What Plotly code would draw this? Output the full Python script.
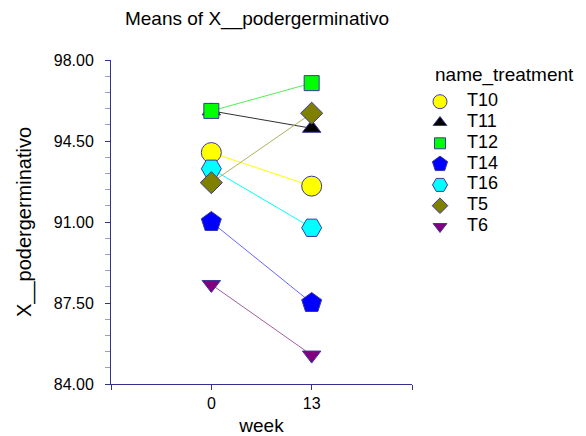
import plotly.graph_objects as go

# ---- data ----
weeks = [0, 13]
treatments = ["T10", "T11", "T12", "T14", "T16", "T5", "T6"]
t10 = [94.0, 92.55]
t11 = [95.8, 95.05]
t12 = [95.8, 97.0]
t14 = [91.0, 87.5]
t16 = [93.3, 90.75]
t5 = [92.7, 95.7]
t6 = [88.3, 85.25]
series = [t10, t11, t12, t14, t16, t5, t6]

y_tickvals = [84.0, 87.5, 91.0, 94.5, 98.0]
x_tickvals = [-13, 0, 13, 26]
x_ticktext = ["", "0", "13", ""]

# ---- styles ----
styles = {
    "T10": dict(symbol="circle", fill="#FFFF00", line="#FFFF00", size=20, lsize=14),
    "T11": dict(symbol="triangle-up", fill="#000000", line="#303030", size=16, lsize=12),
    "T12": dict(symbol="square", fill="#00FF00", line="#55EE55", size=15, lsize=11),
    "T14": dict(symbol="pentagon", fill="#0000FF", line="#6666FF", size=21, lsize=16),
    "T16": dict(symbol="hexagon2", fill="#00FFFF", line="#00FFFF", size=20, lsize=15),
    "T5": dict(symbol="diamond", fill="#808000", line="#B0B060", size=17, lsize=12),
    "T6": dict(symbol="triangle-down", fill="#800080", line="#A060A0", size=16, lsize=12),
}
outline = "#3A3A9A"
axis_col = "#33338F"
minor_col = "#9A9ACC"
FONT = "Liberation Sans, Arial, sans-serif"

# page body has an 8px margin: size the figure to fit the 586x436 window
OFF = 8
W, H = 586 - OFF, 436 - OFF
ML, MR, MT, MB = 111 - OFF, 0, 60 - OFF, 52
PW = W - ML - MR
PH = H - MT - MB
plot_right = 412 - OFF
leg_left = 430 - OFF

fig = go.Figure()

for name, vals in zip(treatments, series):
    s = styles[name]
    fig.add_trace(go.Scatter(
        x=weeks, y=vals, mode="lines+markers", name=name, showlegend=False,
        line=dict(color=s["line"], width=1),
        marker=dict(symbol=s["symbol"], size=s["size"], color=s["fill"],
                    line=dict(color=outline, width=1)),
        xaxis="x", yaxis="y",
    ))

# ---- custom legend (pixel-like coordinates on hidden axes) ----
row0, rowgap = 41.7, 20.8
leg_y = [row0 + i * rowgap for i in range(len(treatments))]
for i, name in enumerate(treatments):
    s = styles[name]
    fig.add_trace(go.Scatter(
        x=[10], y=[leg_y[i]], mode="markers", showlegend=False, hoverinfo="skip",
        marker=dict(symbol=s["symbol"], size=s["lsize"], color=s["fill"],
                    line=dict(color=outline, width=1)),
        xaxis="x2", yaxis="y2",
    ))
fig.add_trace(go.Scatter(
    x=[37] * len(treatments), y=leg_y, mode="text", text=treatments,
    textposition="middle right", showlegend=False, hoverinfo="skip",
    textfont=dict(family=FONT, size=18, color="#000000"),
    xaxis="x2", yaxis="y2",
))

fig.update_layout(
    width=W, height=H,
    margin=dict(l=ML, r=MR, t=MT, b=MB),
    paper_bgcolor="white", plot_bgcolor="white",
    font=dict(family=FONT, color="#000000"),
    title=dict(text="Means of X__podergerminativo", x=(257 - OFF) / W, xanchor="center",
               xref="container", y=1 - (18 - OFF) / H, yanchor="middle", yref="container",
               font=dict(size=19, family=FONT, color="#000000")),
    xaxis=dict(
        domain=[0, (plot_right - ML) / PW], range=[-13, 26],
        showline=True, linecolor=axis_col, linewidth=1, mirror=False,
        ticks="outside", ticklen=5, tickcolor=axis_col,
        tickvals=x_tickvals, ticktext=x_ticktext,
        showgrid=False, zeroline=False,
        tickfont=dict(size=16, family=FONT, color="#000000"),
        title=dict(text="week", font=dict(size=19, family=FONT), standoff=9),
        anchor="y",
    ),
    yaxis=dict(
        domain=[0, 1], range=[84, 98],
        showline=True, linecolor=axis_col, linewidth=1,
        ticks="outside", ticklen=5, tickcolor=axis_col,
        tickvals=y_tickvals, tickformat=".2f",
        minor=dict(tick0=84, dtick=0.7, ticks="outside", ticklen=5,
                   tickcolor=minor_col, showgrid=False),
        showgrid=False, zeroline=False,
        tickfont=dict(size=16, family=FONT, color="#000000"),
        ticklabelstandoff=8,
        title=dict(text="X__podergerminativo", font=dict(size=20, family=FONT), standoff=16),
        anchor="x",
    ),
    xaxis2=dict(domain=[(leg_left - ML) / PW, 1], range=[0, W - leg_left],
                visible=False, anchor="y2", fixedrange=True),
    yaxis2=dict(domain=[0, 1], range=[PH, 0], visible=False, anchor="x2",
                fixedrange=True),
    annotations=[dict(text="name_treatment", x=3, y=15, xref="x2", yref="y2",
                      xanchor="left", yanchor="middle", showarrow=False,
                      font=dict(size=19, family=FONT, color="#000000"))],
)

fig.write_html("out.html")
